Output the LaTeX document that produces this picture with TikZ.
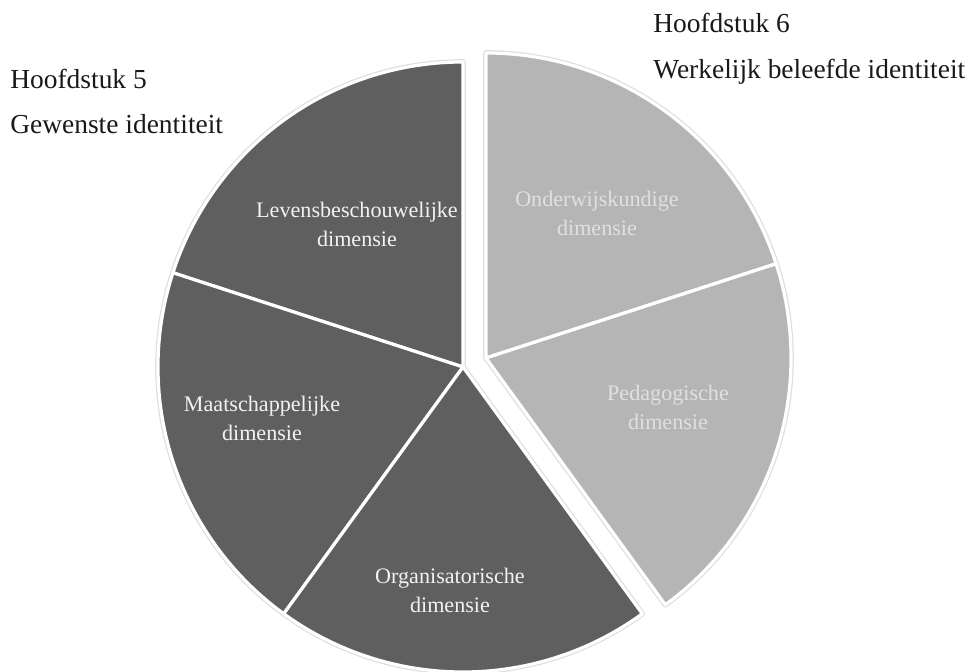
\documentclass[tikz,border=0pt]{standalone}
\usepackage{fontspec}
\setmainfont{Liberation Serif}
\begin{document}
\begin{tikzpicture}[x=0.75pt,y=0.75pt,
  darkslice/.style={fill=sliceDark, draw=white, line width=2.4pt, line join=round},
  lightslice/.style={fill=sliceLight, draw=white, line width=2.4pt, line join=round},
  glow/.style={draw=black!13, line width=4.2pt, line join=round},
  lbl/.style={align=center, font=\fontsize{16.6}{21.8}\selectfont, inner sep=0pt},
  hdr/.style={anchor=base west, font=\fontsize{20.6}{24}\selectfont, inner sep=0pt, text=black!90}]
\definecolor{sliceDark}{HTML}{5F5F5F}
\definecolor{sliceLight}{HTML}{B5B5B5}
\useasboundingbox (0,0) rectangle (970,671);
% centres (y = 671 - pixel y)
\coordinate (cd) at (463,304);
\coordinate (cl) at (486,313);
\def\R{228.75pt}
% glows
\foreach \a/\b in {90/162,162/234,234/306}
  \draw[glow] (cd) -- ++(\a:\R) arc[start angle=\a, end angle=\b, radius=\R] -- cycle;
\foreach \a/\b in {18/90,-54/18}
  \draw[glow] (cl) -- ++(\a:\R) arc[start angle=\a, end angle=\b, radius=\R] -- cycle;
% slices
\foreach \a/\b in {90/162,162/234,234/306}
  \draw[darkslice] (cd) -- ++(\a:\R) arc[start angle=\a, end angle=\b, radius=\R] -- cycle;
\foreach \a/\b in {18/90,-54/18}
  \draw[lightslice] (cl) -- ++(\a:\R) arc[start angle=\a, end angle=\b, radius=\R] -- cycle;
% labels
\node[lbl, text=white!95!black] (lev) at (357,447) {Levensbeschouwelijke\\dimensie};
\node[lbl, text=white!95!black] (maa) at (262,253) {Maatschappelijke\\dimensie};
\node[lbl, text=white!95!black] (org) at (450,81) {Organisatorische\\dimensie};
\node[lbl, text=white!88!black] (ond) at (597,458) {Onderwijskundige\\dimensie};
\node[lbl, text=white!88!black] (ped) at (668,264) {Pedagogische\\dimensie};
% headers
\node[hdr] (h5) at (10,582) {Hoofdstuk 5};
\node[hdr] (g5) at (10,537) {Gewenste identiteit};
\node[hdr] (h6) at (653,638) {Hoofdstuk 6};
\node[hdr] (w6) at (653,592) {Werkelijk beleefde identiteit};
\end{tikzpicture}
\end{document}
